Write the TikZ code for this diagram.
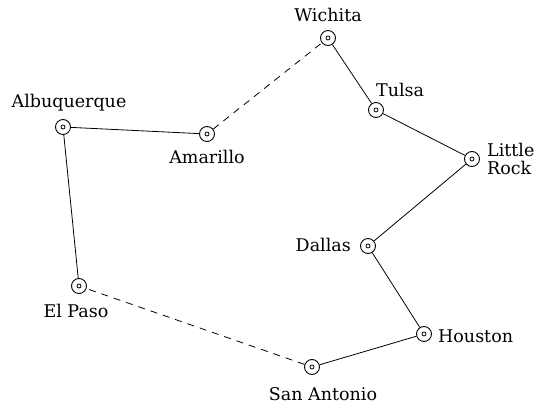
\documentclass[tikz,border=0pt]{standalone}
\usepackage{fontspec}
\setmainfont{DejaVu Serif}
\tikzset{
  city/.style={circle, draw, line width=0.9pt, minimum size=15pt, inner sep=0pt,
    path picture={\draw[line width=0.8pt] (path picture bounding box.center) circle (2pt);}},
  lbl/.style={inner sep=0pt, font=\fontsize{17.5}{21}\selectfont},
  road/.style={line width=0.8pt},
  dashroad/.style={line width=0.8pt, dash pattern=on 7pt off 6pt}
}
\begin{document}
\begin{tikzpicture}[x=1pt,y=-1pt]
\useasboundingbox (0,0) rectangle (536,404);
\node[city] (wic) at (328,38) {};
\node[city] (tul) at (376,110) {};
\node[city] (lr)  at (472,159) {};
\node[city] (dal) at (368,246) {};
\node[city] (hou) at (424,334) {};
\node[city] (sa)  at (312,367) {};
\node[city] (ep)  at (79,286) {};
\node[city] (abq) at (63,127) {};
\node[city] (ama) at (207,134) {};

\node[lbl, anchor=base] (wicl) at (328,22) {Wichita};
\node[lbl, anchor=base west] (tull) at (376,97) {Tulsa};
\node[lbl, anchor=west, align=left] (lrl) at (487,159) {Little\\[-3pt]Rock};
\node[lbl, anchor=base east] (dall) at (351,251) {Dallas};
\node[lbl, anchor=base west] (houl) at (438,342) {Houston};
\node[lbl, anchor=base] (sal) at (323,400) {San Antonio};
\node[lbl, anchor=base] (epl) at (76,317) {El Paso};
\node[lbl, anchor=base] (abql) at (69,108) {Albuquerque};
\node[lbl, anchor=base] (amal) at (207,163) {Amarillo};

\draw[road] (abq) -- (ama);
\draw[dashroad] (ama) -- (wic);
\draw[road] (wic) -- (tul);
\draw[road] (tul) -- (lr);
\draw[road] (lr) -- (dal);
\draw[road] (dal) -- (hou);
\draw[road] (hou) -- (sa);
\draw[dashroad] (sa) -- (ep);
\draw[road] (ep) -- (abq);
\end{tikzpicture}
\end{document}
